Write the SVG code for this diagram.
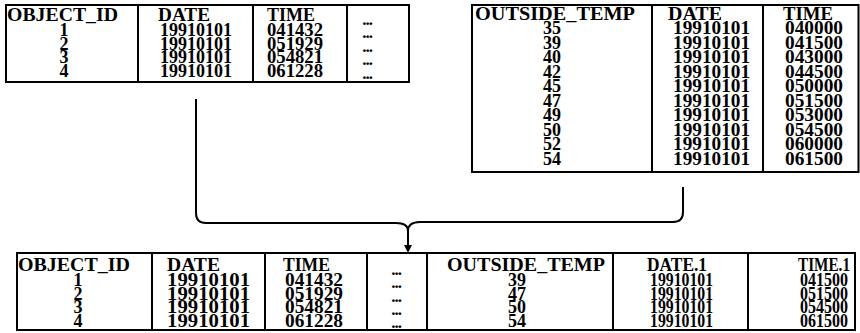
<svg xmlns="http://www.w3.org/2000/svg" width="860" height="333" viewBox="0 0 860 333">
<style>
.box{fill:#fff;stroke:#000;stroke-width:2}
.div{stroke:#000;stroke-width:2}
text{font-family:"Liberation Serif","Times New Roman",serif;font-weight:bold;font-size:18px;fill:#000}
.c{text-anchor:middle}
.d{font-size:17px;text-anchor:middle;letter-spacing:-1px}
.con{fill:none;stroke:#000;stroke-width:2}
</style>
<g id="table-object">
<rect class="box" x="6" y="5" width="403" height="77"/>
<line class="div" x1="138" y1="5" x2="138" y2="82"/>
<line class="div" x1="253" y1="5" x2="253" y2="82"/>
<line class="div" x1="347" y1="5" x2="347" y2="82"/>
<text x="7" y="21" textLength="111" lengthAdjust="spacingAndGlyphs">OBJECT_ID</text>
<text x="158" y="21" textLength="52" lengthAdjust="spacingAndGlyphs">DATE</text>
<text x="267" y="21" textLength="48" lengthAdjust="spacingAndGlyphs">TIME</text>
<text class="c" x="64" y="36">1</text>
<text class="c" x="64" y="49.5">2</text>
<text class="c" x="64" y="63">3</text>
<text class="c" x="64" y="76.5">4</text>
<text x="160" y="36" textLength="72" lengthAdjust="spacingAndGlyphs">19910101</text>
<text x="160" y="49.5" textLength="72" lengthAdjust="spacingAndGlyphs">19910101</text>
<text x="160" y="63" textLength="72" lengthAdjust="spacingAndGlyphs">19910101</text>
<text x="160" y="76.5" textLength="72" lengthAdjust="spacingAndGlyphs">19910101</text>
<text x="267" y="36" textLength="56" lengthAdjust="spacingAndGlyphs">041432</text>
<text x="267" y="49.5" textLength="56" lengthAdjust="spacingAndGlyphs">051929</text>
<text x="267" y="63" textLength="56" lengthAdjust="spacingAndGlyphs">054821</text>
<text x="267" y="76.5" textLength="56" lengthAdjust="spacingAndGlyphs">061228</text>
<text class="d" x="367" y="25">...</text>
<text class="d" x="367" y="38">...</text>
<text class="d" x="367" y="52">...</text>
<text class="d" x="367" y="65">...</text>
<text class="d" x="367" y="79">...</text>
</g>
<g id="table-temp">
<rect class="box" x="472" y="5" width="386.5" height="167"/>
<line class="div" x1="652" y1="5" x2="652" y2="172"/>
<line class="div" x1="763" y1="5" x2="763" y2="172"/>
<text x="475" y="20" textLength="160" lengthAdjust="spacingAndGlyphs">OUTSIDE_TEMP</text>
<text x="668" y="20" textLength="54" lengthAdjust="spacingAndGlyphs">DATE</text>
<text x="783" y="20" textLength="50" lengthAdjust="spacingAndGlyphs">TIME</text>
<text class="c" x="552" y="34">35</text>
<text class="c" x="552" y="48.5">39</text>
<text class="c" x="552" y="63">40</text>
<text class="c" x="552" y="77.5">42</text>
<text class="c" x="552" y="92">45</text>
<text class="c" x="552" y="106.5">47</text>
<text class="c" x="552" y="121">49</text>
<text class="c" x="552" y="135.5">50</text>
<text class="c" x="552" y="150">52</text>
<text class="c" x="552" y="164.5">54</text>
<text x="673" y="34" textLength="77" lengthAdjust="spacingAndGlyphs">19910101</text>
<text x="673" y="48.5" textLength="77" lengthAdjust="spacingAndGlyphs">19910101</text>
<text x="673" y="63" textLength="77" lengthAdjust="spacingAndGlyphs">19910101</text>
<text x="673" y="77.5" textLength="77" lengthAdjust="spacingAndGlyphs">19910101</text>
<text x="673" y="92" textLength="77" lengthAdjust="spacingAndGlyphs">19910101</text>
<text x="673" y="106.5" textLength="77" lengthAdjust="spacingAndGlyphs">19910101</text>
<text x="673" y="121" textLength="77" lengthAdjust="spacingAndGlyphs">19910101</text>
<text x="673" y="135.5" textLength="77" lengthAdjust="spacingAndGlyphs">19910101</text>
<text x="673" y="150" textLength="77" lengthAdjust="spacingAndGlyphs">19910101</text>
<text x="673" y="164.5" textLength="77" lengthAdjust="spacingAndGlyphs">19910101</text>
<text x="785" y="34" textLength="58" lengthAdjust="spacingAndGlyphs">040000</text>
<text x="785" y="48.5" textLength="58" lengthAdjust="spacingAndGlyphs">041500</text>
<text x="785" y="63" textLength="58" lengthAdjust="spacingAndGlyphs">043000</text>
<text x="785" y="77.5" textLength="58" lengthAdjust="spacingAndGlyphs">044500</text>
<text x="785" y="92" textLength="58" lengthAdjust="spacingAndGlyphs">050000</text>
<text x="785" y="106.5" textLength="58" lengthAdjust="spacingAndGlyphs">051500</text>
<text x="785" y="121" textLength="58" lengthAdjust="spacingAndGlyphs">053000</text>
<text x="785" y="135.5" textLength="58" lengthAdjust="spacingAndGlyphs">054500</text>
<text x="785" y="150" textLength="58" lengthAdjust="spacingAndGlyphs">060000</text>
<text x="785" y="164.5" textLength="58" lengthAdjust="spacingAndGlyphs">061500</text>
</g>
<g id="table-joined">
<rect class="box" x="17" y="253" width="838" height="77"/>
<line class="div" x1="152" y1="253" x2="152" y2="330"/>
<line class="div" x1="265" y1="253" x2="265" y2="330"/>
<line class="div" x1="367" y1="253" x2="367" y2="330"/>
<line class="div" x1="427" y1="253" x2="427" y2="330"/>
<line class="div" x1="613" y1="253" x2="613" y2="330"/>
<line class="div" x1="748" y1="253" x2="748" y2="330"/>
<text x="18" y="271" textLength="112" lengthAdjust="spacingAndGlyphs">OBJECT_ID</text>
<text x="167" y="271" textLength="53" lengthAdjust="spacingAndGlyphs">DATE</text>
<text x="283" y="271" textLength="47" lengthAdjust="spacingAndGlyphs">TIME</text>
<text x="447" y="271" textLength="158" lengthAdjust="spacingAndGlyphs">OUTSIDE_TEMP</text>
<text x="647" y="271" textLength="60" lengthAdjust="spacingAndGlyphs">DATE.1</text>
<text x="798" y="271" textLength="52" lengthAdjust="spacingAndGlyphs">TIME.1</text>
<text class="c" x="78" y="286">1</text>
<text class="c" x="78" y="299.5">2</text>
<text class="c" x="78" y="313">3</text>
<text class="c" x="78" y="326.5">4</text>
<text x="167" y="286" textLength="83" lengthAdjust="spacingAndGlyphs">19910101</text>
<text x="167" y="299.5" textLength="83" lengthAdjust="spacingAndGlyphs">19910101</text>
<text x="167" y="313" textLength="83" lengthAdjust="spacingAndGlyphs">19910101</text>
<text x="167" y="326.5" textLength="83" lengthAdjust="spacingAndGlyphs">19910101</text>
<text x="285" y="286" textLength="58" lengthAdjust="spacingAndGlyphs">041432</text>
<text x="285" y="299.5" textLength="58" lengthAdjust="spacingAndGlyphs">051929</text>
<text x="285" y="313" textLength="58" lengthAdjust="spacingAndGlyphs">054821</text>
<text x="285" y="326.5" textLength="58" lengthAdjust="spacingAndGlyphs">061228</text>
<text class="d" x="396" y="275">...</text>
<text class="d" x="396" y="288">...</text>
<text class="d" x="396" y="302">...</text>
<text class="d" x="396" y="315">...</text>
<text class="d" x="396" y="328">...</text>
<text class="c" x="517" y="286">39</text>
<text class="c" x="517" y="299.5">47</text>
<text class="c" x="517" y="313">50</text>
<text class="c" x="517" y="326.5">54</text>
<text x="650" y="286" textLength="63" lengthAdjust="spacingAndGlyphs">19910101</text>
<text x="650" y="299.5" textLength="63" lengthAdjust="spacingAndGlyphs">19910101</text>
<text x="650" y="313" textLength="63" lengthAdjust="spacingAndGlyphs">19910101</text>
<text x="650" y="326.5" textLength="63" lengthAdjust="spacingAndGlyphs">19910101</text>
<text x="800" y="286" textLength="48" lengthAdjust="spacingAndGlyphs">041500</text>
<text x="800" y="299.5" textLength="48" lengthAdjust="spacingAndGlyphs">051500</text>
<text x="800" y="313" textLength="48" lengthAdjust="spacingAndGlyphs">054500</text>
<text x="800" y="326.5" textLength="48" lengthAdjust="spacingAndGlyphs">061500</text>
</g>
<g id="connectors">
<path class="con" d="M196,99 V213 Q196,223 206,223 H396 Q408,223 408,231"/>
<path class="con" d="M683,187 V212 Q683,222 673,222 H420 Q408,222 408,231"/>
<line class="con" x1="408" y1="230" x2="408" y2="246"/>
<path d="M404,245 L412,245 L408,253 Z" fill="#000"/>
</g>
</svg>
